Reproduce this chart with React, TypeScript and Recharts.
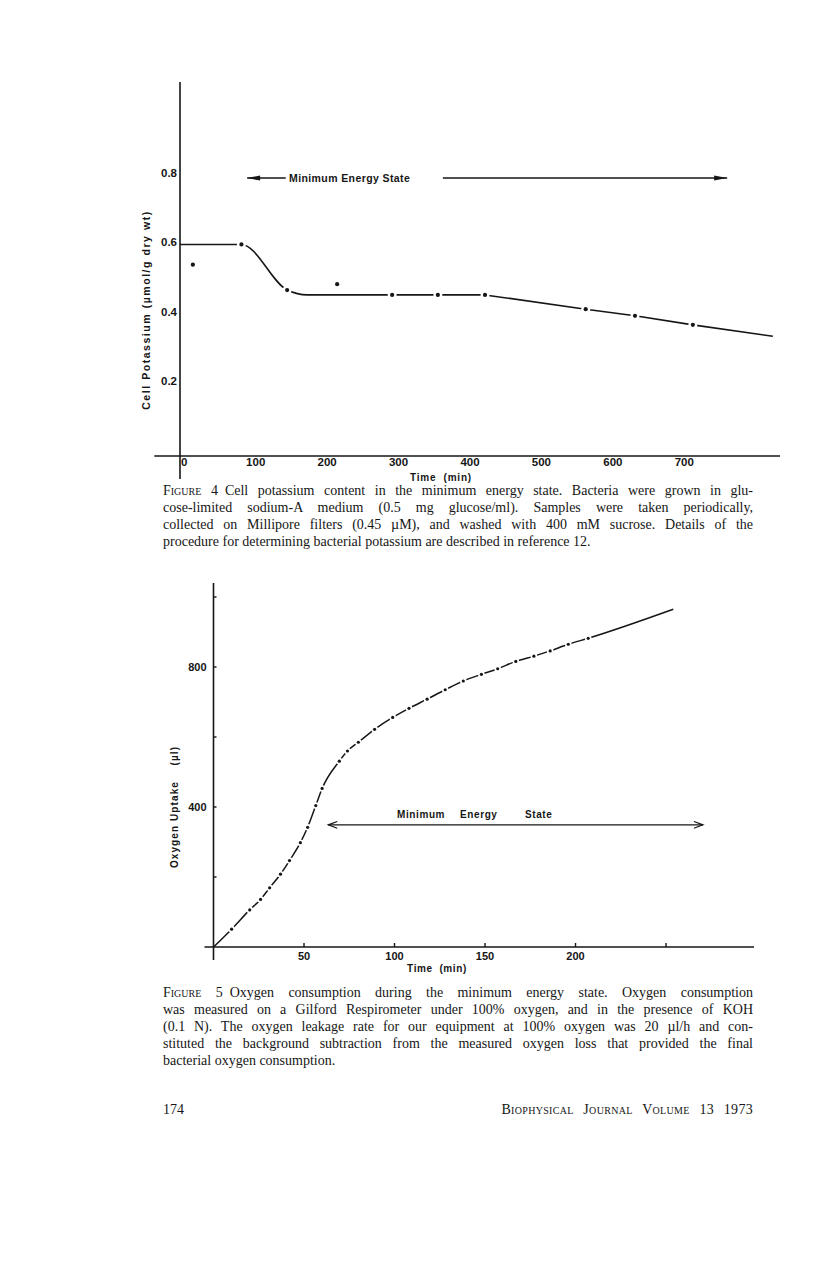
import React from "react";
import {
  ComposedChart,
  Line,
  ReferenceLine,
  Scatter,
  XAxis,
  YAxis,
} from "recharts";

const INK = "#161616";
const SANS = "'Liberation Sans', Arial, sans-serif";
const SERIF = "'Liberation Serif', 'Times New Roman', serif";

// Figure 4: cell potassium (umol/g dry wt) against time (min)
const potassiumTicksX = [0, 100, 200, 300, 400, 500, 600, 700];
const potassiumTicksY = [0.2, 0.4, 0.6, 0.8];
const potassiumTime = [12, 80, 144, 214, 291, 355, 421, 562, 631, 712];
const potassiumValue = [0.535, 0.593, 0.462, 0.479, 0.448, 0.448, 0.448, 0.407, 0.388, 0.362];
// hand drawn fit: plateau with the drop, then the slow straight decline
const plateauTime = [-6, 80, 144, 172, 421];
const plateauValue = [0.593, 0.593, 0.462, 0.448, 0.448];
const declineTime = [421, 562, 631, 712, 824];
const declineValue = [0.448, 0.407, 0.388, 0.362, 0.329];

// Figure 5: oxygen uptake (ul) against time (min)
const oxygenTicksX = [50, 100, 150, 200, 250];
const oxygenLabelsX = ["50", "100", "150", "200", ""];
const oxygenTicksY = [200, 400, 600, 800, 1000];
const oxygenLabelsY = ["", "400", "", "800", ""];
const oxygenTime = [
  0, 10, 20, 26, 31, 37, 42, 48, 52, 56.5, 60, 69.5, 74, 80, 89, 99, 108, 118, 128,
  138, 148, 157, 167, 177, 186, 196, 207, 254,
];
const oxygenUptake = [
  0, 51, 106, 136, 169, 208, 247, 298, 342, 404, 453, 531, 560, 585, 622, 656, 682, 708,
  735, 760, 779, 795, 816, 831, 846, 865, 882, 965,
];

const caption4 = [
  "Cell potassium content in the minimum energy state. Bacteria were grown in glu-",
  "cose-limited sodium-A medium (0.5 mg glucose/ml). Samples were taken periodically,",
  "collected on Millipore filters (0.45 \u00b5M), and washed with 400 mM sucrose. Details of the",
  "procedure for determining bacterial potassium are described in reference 12.",
];
const caption5 = [
  "Oxygen consumption during the minimum energy state. Oxygen consumption",
  "was measured on a Gilford Respirometer under 100% oxygen, and in the presence of KOH",
  "(0.1 N). The oxygen leakage rate for our equipment at 100% oxygen was 20 \u00b5l/h and con-",
  "stituted the background subtraction from the measured oxygen loss that provided the final",
  "bacterial oxygen consumption.",
];

const zip = (ts: number[], vs: number[]) => ts.map((t, i) => ({ t, v: vs[i] }));

const potassiumSamples = zip(potassiumTime, potassiumValue);
const plateauFit = zip(plateauTime, plateauValue);
const declineFit = zip(declineTime, declineValue);
const oxygenCurve = zip(oxygenTime, oxygenUptake);
const oxygenDots = oxygenCurve.slice(1, -1);

// dot with a white ring so the drawn line breaks around it
const haloDot = (r: number, halo: number) => (props: any) => {
  const { cx, cy } = props;
  return (
    <g>
      <circle cx={cx} cy={cy} r={halo} fill="#fff" />
      <circle cx={cx} cy={cy} r={r} fill={INK} />
    </g>
  );
};

const arrowShape =
  (heads: ("start" | "end")[], solid: boolean) =>
  (p: any) => {
    const { x1, y1, x2, y2 } = p;
    const len = solid ? 13 : 9;
    const half = solid ? 2.6 : 3.4;
    const head = (tx: number, ty: number, dir: number, key: string) =>
      solid ? (
        <polygon
          key={key}
          points={`${tx},${ty} ${tx - dir * len},${ty - half} ${tx - dir * len},${ty + half}`}
          fill={INK}
        />
      ) : (
        <polyline
          key={key}
          points={`${tx - dir * len},${ty - half} ${tx},${ty} ${tx - dir * len},${ty + half}`}
          fill="none"
          stroke={INK}
          strokeWidth={1.2}
        />
      );
    return (
      <g>
        <line x1={x1} y1={y1} x2={x2} y2={y2} stroke={INK} strokeWidth={solid ? 1.5 : 1.2} />
        {heads.includes("start") && head(x1, y1, -1, "s")}
        {heads.includes("end") && head(x2, y2, 1, "e")}
      </g>
    );
  };

const tickFont = { fill: INK, fontSize: 11.5, fontWeight: 700, fontFamily: SANS };

function Txt({
  x,
  y,
  children,
  size = 10.5,
  spacing = 0.6,
  rotate = false,
  anchor = "center",
}: any) {
  return (
    <div
      style={{
        position: "absolute",
        left: x,
        top: y,
        transform: `translate(${anchor === "left" ? "0" : "-50%"}, -50%)${rotate ? " rotate(-90deg)" : ""}`,
        whiteSpace: "pre",
        fontFamily: SANS,
        fontWeight: 700,
        fontSize: size,
        letterSpacing: spacing,
        color: INK,
        lineHeight: 1,
      }}
    >
      {children}
    </div>
  );
}

function Caption({ top, fig, lines }: { top: number; fig: string; lines: string[] }) {
  return (
    <>
      {lines.map((ln, i) => (
        <div
          key={i}
          style={{
            position: "absolute",
            left: 163,
            top: top + i * 17,
            width: 590,
            height: 17,
            lineHeight: "17px",
            fontFamily: SERIF,
            fontSize: 14,
            color: INK,
            whiteSpace: "nowrap",
            textAlign: "justify",
            textAlignLast: i < lines.length - 1 ? "justify" : "left",
          }}
        >
          {i === 0 && (
            <span style={{ fontVariant: "small-caps", marginRight: 7 }}>Figure {fig}</span>
          )}
          {ln}
        </div>
      ))}
    </>
  );
}

function PotassiumChart() {
  return (
    <div style={{ position: "absolute", left: 0, top: 0 }}>
      <ComposedChart
        width={816}
        height={500}
        margin={{ top: 82, right: 36, bottom: 24, left: 150 }}
      >
        <XAxis
          type="number"
          dataKey="t"
          domain={[-6, 834]}
          allowDataOverflow
          ticks={potassiumTicksX}
          interval={0}
          height={20}
          axisLine={false}
          tickLine={false}
          tickSize={0}
          tickMargin={2}
          tick={tickFont}
        />
        <YAxis
          type="number"
          dataKey="v"
          domain={[-0.015, 1.06]}
          allowDataOverflow
          ticks={potassiumTicksY}
          interval={0}
          width={30}
          axisLine={false}
          tickLine={false}
          tickSize={0}
          tickMargin={3}
          tickFormatter={(v: number) => v.toFixed(1)}
          tick={tickFont}
        />
        <ReferenceLine
          segment={[{ x: -6, y: -0.081 }, { x: -6, y: 1.06 }]}
          stroke={INK}
          strokeWidth={1.6}
          ifOverflow="visible"
        />
        <ReferenceLine
          segment={[{ x: -42, y: -0.015 }, { x: 834, y: -0.015 }]}
          stroke={INK}
          strokeWidth={1.6}
          ifOverflow="visible"
        />
        <ReferenceLine
          segment={[{ x: 88, y: 0.784 }, { x: 142, y: 0.784 }]}
          ifOverflow="visible"
          shape={arrowShape(["start"], true)}
        />
        <ReferenceLine
          segment={[{ x: 362, y: 0.784 }, { x: 760, y: 0.784 }]}
          ifOverflow="visible"
          shape={arrowShape(["end"], true)}
        />
        <Line
          data={plateauFit}
          dataKey="v"
          type="monotone"
          stroke={INK}
          strokeWidth={1.6}
          dot={false}
          activeDot={false}
          isAnimationActive={false}
        />
        <Line
          data={declineFit}
          dataKey="v"
          type="linear"
          stroke={INK}
          strokeWidth={1.6}
          dot={false}
          activeDot={false}
          isAnimationActive={false}
        />
        <Scatter
          data={potassiumSamples}
          dataKey="v"
          shape={haloDot(2.1, 4.5)}
          isAnimationActive={false}
        />
      </ComposedChart>
    </div>
  );
}

function OxygenChart() {
  return (
    <div style={{ position: "absolute", left: 0, top: 560 }}>
      <ComposedChart
        width={816}
        height={420}
        margin={{ top: 23, right: 62, bottom: 13, left: 173.5 }}
      >
        <XAxis
          type="number"
          dataKey="t"
          domain={[0, 298.6]}
          allowDataOverflow
          ticks={oxygenTicksX}
          interval={0}
          height={20}
          axisLine={false}
          tickLine={{ stroke: INK, strokeWidth: 1.4 }}
          tickSize={-4}
          tickMargin={9}
          tickFormatter={(v: number) => oxygenLabelsX[oxygenTicksX.indexOf(v)]}
          tick={{ ...tickFont, fontSize: 11 }}
        />
        <YAxis
          type="number"
          dataKey="v"
          domain={[0, 1040]}
          allowDataOverflow
          ticks={oxygenTicksY}
          interval={0}
          width={40}
          axisLine={false}
          tickLine={{ stroke: INK, strokeWidth: 1.4 }}
          tickSize={-3}
          tickMargin={10}
          tickFormatter={(v: number) => oxygenLabelsY[oxygenTicksY.indexOf(v)]}
          tick={{ ...tickFont, fontSize: 11 }}
        />
        <ReferenceLine
          segment={[{ x: 0, y: -37 }, { x: 0, y: 1040 }]}
          stroke={INK}
          strokeWidth={1.6}
          ifOverflow="visible"
        />
        <ReferenceLine
          segment={[{ x: -5, y: 0 }, { x: 298.6, y: 0 }]}
          stroke={INK}
          strokeWidth={1.6}
          ifOverflow="visible"
        />
        <ReferenceLine
          segment={[{ x: 63.4, y: 349 }, { x: 270.4, y: 349 }]}
          ifOverflow="visible"
          shape={arrowShape(["start", "end"], false)}
        />
        <Line
          data={oxygenCurve}
          dataKey="v"
          type="monotone"
          stroke={INK}
          strokeWidth={1.5}
          dot={false}
          activeDot={false}
          isAnimationActive={false}
        />
        <Scatter
          data={oxygenDots}
          dataKey="v"
          shape={haloDot(1.6, 3.3)}
          isAnimationActive={false}
        />
      </ComposedChart>
    </div>
  );
}

export default function App() {
  return (
    <div
      style={{
        position: "absolute",
        left: 0,
        top: 0,
        width: 816,
        height: 1268,
        background: "#fff",
        overflow: "hidden",
      }}
    >
      <PotassiumChart />
      <Txt x={289} y={178} anchor="left" spacing={0.4}>
        Minimum Energy State
      </Txt>
      <Txt x={146} y={310} rotate spacing={1.55}>
        {"Cell Potassium (\u00b5mol/g dry wt)"}
      </Txt>
      <Txt x={441} y={478} spacing={0.8} size={10}>
        {"Time  (min)"}
      </Txt>
      <Caption top={481.5} fig="4" lines={caption4} />

      <OxygenChart />
      <Txt x={397} y={815} anchor="left" spacing={0.6} size={10}>
        Minimum
      </Txt>
      <Txt x={460} y={815} anchor="left" spacing={0.6} size={10}>
        Energy
      </Txt>
      <Txt x={525} y={815} anchor="left" spacing={0.6} size={10}>
        State
      </Txt>
      <Txt x={175} y={807} rotate spacing={1.1} size={10}>
        {"Oxygen Uptake    (\u00b5l)"}
      </Txt>
      <Txt x={437} y={969} spacing={0.6} size={10}>
        {"Time  (min)"}
      </Txt>
      <Caption top={983.5} fig="5" lines={caption5} />

      <div
        style={{
          position: "absolute",
          left: 163,
          top: 1101,
          fontFamily: SERIF,
          fontSize: 14,
          color: INK,
          lineHeight: "17px",
        }}
      >
        174
      </div>
      <div
        style={{
          position: "absolute",
          right: 816 - 753,
          top: 1101,
          fontFamily: SERIF,
          fontSize: 14,
          color: INK,
          lineHeight: "17px",
          fontVariant: "small-caps",
          wordSpacing: 6,
          letterSpacing: 0.3,
          whiteSpace: "pre",
        }}
      >
        Biophysical Journal Volume 13 1973
      </div>
    </div>
  );
}
